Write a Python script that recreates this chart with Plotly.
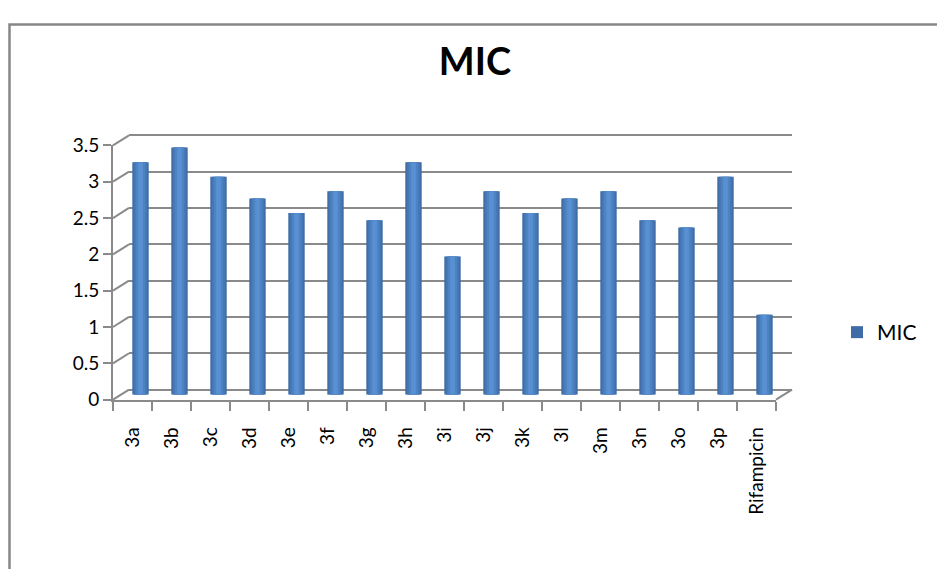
import plotly.graph_objects as go

# ---- data ----
categories = ["3a", "3b", "3c", "3d", "3e", "3f", "3g", "3h", "3i", "3j",
              "3k", "3l", "3m", "3n", "3o", "3p", "Rifampicin"]
mic_values = [3.2, 3.4, 3.0, 2.7, 2.5, 2.8, 2.4, 3.2, 1.9, 2.8,
              2.5, 2.7, 2.8, 2.4, 2.3, 3.0, 1.1]
series_name = "MIC"
y_ticks = [0, 0.5, 1, 1.5, 2, 2.5, 3, 3.5]
y_max = 3.5

# ---- geometry (pixels) ----
W, H = 937, 569
FX0, FX1 = 113, 776      # front plane x extent
FY0, FY1 = 404, 139      # front plane y for value 0 and y_max
DX, DY = 16, -10.5       # depth offset of the back wall

def xd(px0, px1):
    return [px0 / W, px1 / W]

def yd(py0, py1):
    return [1 - py0 / H, 1 - py1 / H]

def fy(v, depth=0.0):
    return FY0 + (FY1 - FY0) * v / y_max + DY * depth

GRID = "#8a8a8a"
FONT = "Lato"
xr = [-0.5, len(categories) - 0.5]
eps = 0.1
yr_wide = [-eps, y_max + eps]

fig = go.Figure()

# back wall (gridlines) subplot: xy
fig.add_trace(go.Scatter(x=categories, y=mic_values, mode="markers",
                         marker=dict(opacity=0), hoverinfo="skip",
                         showlegend=False, xaxis="x", yaxis="y"))

# bars (faux cylinders) subplot: x2y2
layers = [
    (0.42, "#3f6ca6", True),
    (0.34, "#4677b5", False),
    (0.24, "#4d82c3", False),
    (0.12, "#5890d2", False),
]
for w, col, leg in layers:
    fig.add_trace(go.Bar(x=categories, y=mic_values, width=w,
                         marker=dict(color=col, line=dict(width=0)),
                         name=series_name, showlegend=leg,
                         xaxis="x2", yaxis="y2"))

# front axes subplot: x3y3
fig.add_trace(go.Scatter(x=categories, y=mic_values, mode="markers",
                         marker=dict(opacity=0), hoverinfo="skip",
                         showlegend=False, xaxis="x3", yaxis="y3"))

hidden = dict(showgrid=False, zeroline=False, showline=False,
              showticklabels=False, ticks="")

# pixel padding so that the widened back range keeps the same scale
pad_px = (FY0 - FY1) * eps / y_max

fig.update_layout(
    width=W, height=H,
    margin=dict(l=0, r=0, t=0, b=0),
    paper_bgcolor="white", plot_bgcolor="rgba(0,0,0,0)",
    barmode="overlay",
    font=dict(family=FONT, color="black"),
    title=dict(text="<b>MIC</b>", x=475 / W, y=1 - 62 / H,
               xanchor="center", yanchor="middle",
               font=dict(family=FONT, size=38, color="black")),
    showlegend=True,
    legend=dict(x=837 / W, y=1 - 334 / H, xanchor="left", yanchor="middle",
                font=dict(family=FONT, size=21, color="black"),
                bgcolor="rgba(0,0,0,0)", borderwidth=0),
    # back wall
    xaxis=dict(domain=xd(FX0 + DX, FX1 + DX), range=xr, type="category",
               **hidden),
    yaxis=dict(domain=yd(FY0 + DY + pad_px, FY1 + DY - pad_px),
               range=yr_wide,
               tickvals=y_ticks, showgrid=True, gridcolor=GRID, gridwidth=2,
               zeroline=False, showline=False, showticklabels=False, ticks=""),
    # bars at mid depth
    xaxis2=dict(domain=xd(FX0 + DX / 2, FX1 + DX / 2), range=xr,
                type="category", anchor="y2", **hidden),
    yaxis2=dict(domain=yd(FY0 + DY / 2, FY1 + DY / 2), range=[0, y_max],
                anchor="x2", **hidden),
    # front axes
    xaxis3=dict(domain=xd(FX0, FX1), range=xr, type="category", anchor="y3",
                showgrid=False, zeroline=False, showline=True,
                linecolor=GRID, linewidth=2, ticks="outside",
                tickson="boundaries", ticklen=9, tickwidth=2, tickcolor=GRID,
                tickangle=-90, ticklabelstandoff=18,
                tickfont=dict(family=FONT, size=19, color="black")),
    yaxis3=dict(domain=yd(FY0, FY1), range=[0, y_max], anchor="x3",
                tickvals=y_ticks, showgrid=False, zeroline=False,
                showline=True, linecolor=GRID, linewidth=2,
                ticks="outside", ticklen=8, tickwidth=2, tickcolor=GRID,
                tickfont=dict(family=FONT, size=19, color="black")),
)

shapes = []
# left side-wall connectors for every y tick
for v in y_ticks:
    shapes.append(dict(type="line", xref="paper", yref="paper",
                       x0=FX0 / W, y0=1 - fy(v) / H,
                       x1=(FX0 + DX) / W, y1=1 - fy(v, 1) / H,
                       line=dict(color=GRID, width=2)))
# floor right edge
shapes.append(dict(type="line", xref="paper", yref="paper",
                   x0=FX1 / W, y0=1 - fy(0) / H,
                   x1=(FX1 + DX) / W, y1=1 - fy(0, 1) / H,
                   line=dict(color=GRID, width=2)))
# chart border
shapes.append(dict(type="rect", xref="paper", yref="paper",
                   x0=9.5 / W, y0=-0.05, x1=1.05, y1=1 - 13 / H,
                   line=dict(color="#878787", width=2.5)))
fig.update_layout(shapes=shapes)

fig.write_html("out.html")
